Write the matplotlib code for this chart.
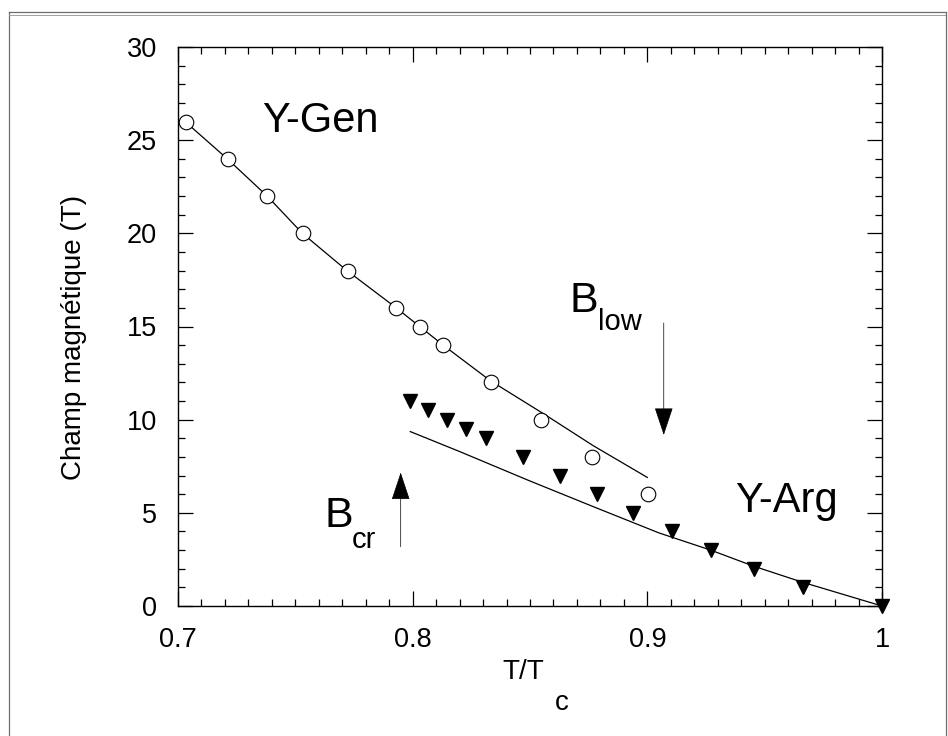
import matplotlib
matplotlib.use("Agg")
import matplotlib.pyplot as plt
from matplotlib.lines import Line2D
from matplotlib.ticker import MultipleLocator

plt.rcParams["font.family"] = ["Liberation Sans", "DejaVu Sans"]

# Y-Gen: open circles + fitted curve
gen_t = [0.7034, 0.7213, 0.738, 0.7533, 0.7724, 0.7929, 0.803, 0.813, 0.8334, 0.8547, 0.8764, 0.9003]
gen_b = [26, 24, 22, 20, 18, 16, 15, 14, 12, 10, 8, 6]
gen_fit_t = [0.703, 0.721, 0.738, 0.753, 0.772, 0.793, 0.813, 0.833, 0.856, 0.877, 0.900]
gen_fit_b = [26.0, 24.0, 22.0, 20.0, 18.0, 16.0, 14.0, 12.1, 10.3, 8.6, 6.9]

# Y-Arg: filled down triangles + fitted curve
arg_t = [0.799, 0.8067, 0.8148, 0.8227, 0.8312, 0.8469, 0.8628, 0.8787, 0.8941, 0.9103, 0.9271, 0.9454, 0.9664, 1.0]
arg_b = [11, 10.5, 10, 9.5, 9, 8, 7, 6, 5, 4, 3, 2, 1, 0]
arg_fit_t = [0.799, 0.820, 0.849, 0.877, 0.905, 0.927, 0.945, 0.966, 1.0]
arg_fit_b = [9.36, 8.29, 6.76, 5.33, 3.92, 3.0, 2.15, 1.28, 0.0]

xticks = [0.7, 0.8, 0.9, 1.0]
xticklabels = ["0.7", "0.8", "0.9", "1"]
yticks = [0, 5, 10, 15, 20, 25, 30]

W, H = 948, 736
fig = plt.figure(figsize=(W / 100, H / 100), dpi=100)
ax = fig.add_axes([178 / W, 1 - 606 / H, 704 / W, 559 / H])

ax.plot(gen_fit_t, gen_fit_b, color="k", lw=0.9)
ax.plot(arg_fit_t, arg_fit_b, color="k", lw=0.9)
ax.plot(gen_t, gen_b, ls="none", marker="o", ms=10.5, mfc="white", mec="k", mew=0.8, zorder=3)
ax.plot(arg_t, arg_b, ls="none", marker="v", ms=10, color="k", clip_on=False, zorder=3)

ax.set_xlim(0.7, 1.0)
ax.set_ylim(0, 30)
ax.set_xticks(xticks)
ax.set_xticklabels(xticklabels)
ax.set_yticks(yticks)
ax.xaxis.set_minor_locator(MultipleLocator(0.01))
ax.yaxis.set_minor_locator(MultipleLocator(1))
ax.tick_params(which="both", direction="in", top=True, right=True, width=0.9)
ax.tick_params(which="major", length=10.5, labelsize=19.5, pad=15)
ax.tick_params(which="minor", length=5)
for s in ax.spines.values():
    s.set_linewidth(1.0)

ax.set_ylabel("Champ magnétique (T)", fontsize=20, va="center")
ax.yaxis.set_label_coords(-0.148, 0.481)
ax.set_xlabel("T/T", fontsize=20, va="top")
ax.xaxis.set_label_coords(0.491, -0.095)
ax.text(0.5355, -0.186, "c", transform=ax.transAxes, fontsize=20, va="baseline")

# series labels
ax.text(0.7358, 25.46, "Y-Gen", fontsize=30, va="baseline")
ax.text(0.9373, 5.06, "Y-Arg", fontsize=30, va="baseline")
ax.text(0.867, 15.78, "B", fontsize=31, va="baseline")
ax.text(0.879, 14.81, "low", fontsize=21, va="baseline")
ax.text(0.7626, 4.24, "B", fontsize=31, va="baseline")
ax.text(0.7741, 3.11, "cr", fontsize=21, va="baseline")

arrow = dict(arrowstyle="-|>,head_length=1.8,head_width=0.6", color="k", lw=0.5,
             shrinkA=0, shrinkB=0, mutation_scale=10)
ax.annotate("", xy=(0.907, 9.18), xytext=(0.907, 15.19), arrowprops=arrow)
ax.annotate("", xy=(0.7949, 7.16), xytext=(0.7949, 3.18), arrowprops=arrow)

# outer frame of the scanned figure
fc = "#6e6e6e"
fig.add_artist(Line2D([9 / W, 9 / W], [0, 1 - 12 / H], color=fc, lw=0.9))
fig.add_artist(Line2D([9 / W, 946 / W], [1 - 12 / H, 1 - 12 / H], color=fc, lw=0.9))
fig.add_artist(Line2D([9 / W, 946 / W], [1 - 15 / H, 1 - 15 / H], color="#a0a0a0", lw=0.7))
fig.add_artist(Line2D([946 / W, 946 / W], [0, 1 - 12 / H], color=fc, lw=0.9))

fig.savefig("out.png", dpi=100, facecolor="white")
